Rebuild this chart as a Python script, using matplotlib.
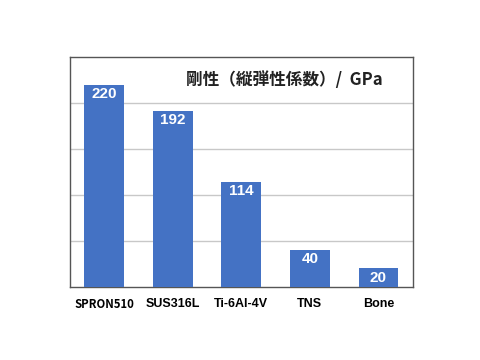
import matplotlib
matplotlib.use("Agg")
import matplotlib.pyplot as plt

categories = ["SPRON510", "SUS316L", "Ti-6Al-4V", "TNS", "Bone"]
values = [220, 192, 114, 40, 20]
title = "剛性（縦弾性係数）/  GPa"

plt.rcParams['font.family'] = ['Liberation Sans', 'Noto Sans CJK JP', 'DejaVu Sans']

fig = plt.figure(figsize=(4.8, 3.6), dpi=100)
ax = fig.add_axes([0.1458, 0.2036, 0.714, 0.637])
x = list(range(len(categories)))
bars = ax.bar(x, values, width=0.58, color="#4472C4", zorder=3)
ax.set_xlim(-0.5, len(categories) - 0.5)
ax.set_ylim(0, 250)
ax.set_yticks([50, 100, 150, 200])
ax.yaxis.grid(True, color="#C8C8C8", linewidth=1.0, zorder=0)
ax.tick_params(axis='y', length=0, labelleft=False)
ax.tick_params(axis='x', length=0, pad=8)
ax.set_xticks(x)
ax.set_xticklabels(categories, fontsize=9, fontweight='bold')
first = ax.get_xticklabels()[0]
first.set_family(['Noto Sans CJK JP', 'DejaVu Sans'])
first.set_fontweight('bold')
first.set_fontsize(8.2)
for s in ax.spines.values():
    s.set_color("#555555")
    s.set_linewidth(1.0)
for xi, v in zip(x, values):
    ax.text(xi, v - 10, str(v), ha='center', va='center', color='white',
            fontsize=11, fontweight='bold', zorder=4)
ax.text(0.913, 0.90, title, transform=ax.transAxes, ha='right', va='center',
        fontsize=12, fontweight='bold', family=['Noto Sans CJK JP', 'DejaVu Sans'],
        color='#222222')
fig.savefig("out.png", dpi=100)
